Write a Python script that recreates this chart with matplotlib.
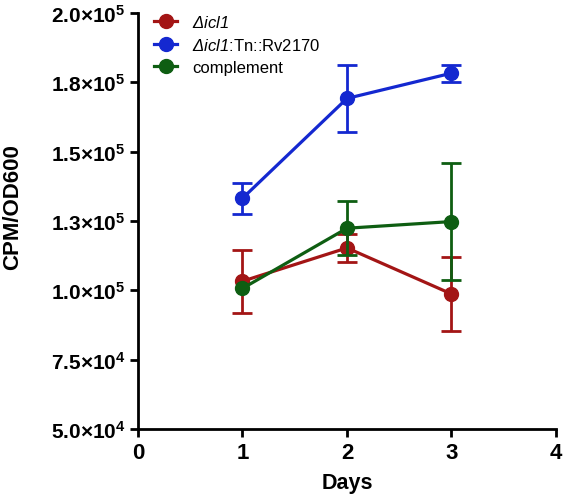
import matplotlib.pyplot as plt
import numpy as np

plt.rcParams['font.family'] = ['Liberation Sans', 'DejaVu Sans']
plt.rcParams['mathtext.fontset'] = 'custom'
plt.rcParams['mathtext.rm'] = 'Liberation Sans:italic'
plt.rcParams['mathtext.it'] = 'Liberation Sans:italic'
plt.rcParams['mathtext.bf'] = 'Liberation Sans:bold'

# data
days = [1, 2, 3]
icl1 = [103300, 115300, 98700]
icl1_err = [11300, 5000, 13500]
tn = [133200, 169200, 178300]
tn_err = [5500, 12100, 3000]
comp = [100700, 122400, 124800]
comp_err = [np.nan, 9800, 21000]

labels = [r'$\Delta icl1$', r'$\Delta icl1$:Tn::Rv2170', 'complement']
colors = ['#A31515', '#1428D0', '#0E5E12']

yticks = [50000, 75000, 100000, 125000, 150000, 175000, 200000]
ytick_labels = [r'$\mathbf{5.0{\times}10^{4}}$', r'$\mathbf{7.5{\times}10^{4}}$',
                r'$\mathbf{1.0{\times}10^{5}}$', r'$\mathbf{1.3{\times}10^{5}}$',
                r'$\mathbf{1.5{\times}10^{5}}$', r'$\mathbf{1.8{\times}10^{5}}$',
                r'$\mathbf{2.0{\times}10^{5}}$']
xticks = [0, 1, 2, 3, 4]

fig = plt.figure(figsize=(5.66, 5.02), dpi=100)
ax = fig.add_axes([0.2438, 0.1434, 0.7385, 0.8287])

series = [(icl1, icl1_err), (tn, tn_err), (comp, comp_err)]
for (vals, errs), lab, c in zip(series, labels, colors):
    ax.errorbar(days, vals, yerr=errs, fmt='none', ecolor=c,
                elinewidth=2, capsize=7.5, capthick=2, clip_on=False)
    ax.plot(days, vals, color=c, marker='o', markersize=10, linewidth=2.3,
            label=lab, clip_on=False)

ax.set_xlim(0, 4)
ax.set_ylim(50000, 200000)
ax.set_xticks(xticks)
ax.set_xticklabels([str(t) for t in xticks], fontsize=16, fontweight='bold')
ax.set_yticks(yticks)
ax.set_yticklabels(ytick_labels, fontsize=15)

for s in ['top', 'right']:
    ax.spines[s].set_visible(False)
for s in ['left', 'bottom']:
    ax.spines[s].set_linewidth(2)
ax.tick_params(width=2, length=6, direction='out', pad=3)

ax.set_xlabel('Days', fontsize=15.5, fontweight='bold', labelpad=7)
ax.set_ylabel('CPM/OD600', fontsize=16, fontweight='bold')
ax.yaxis.set_label_coords(-0.275, 0.535)

leg = ax.legend(loc='upper left', bbox_to_anchor=(0.01, 1.025), frameon=False,
                fontsize=12, handlelength=1.4, handletextpad=0.9,
                labelspacing=0.4, borderaxespad=0.3)

fig.savefig('out.png', dpi=100)
